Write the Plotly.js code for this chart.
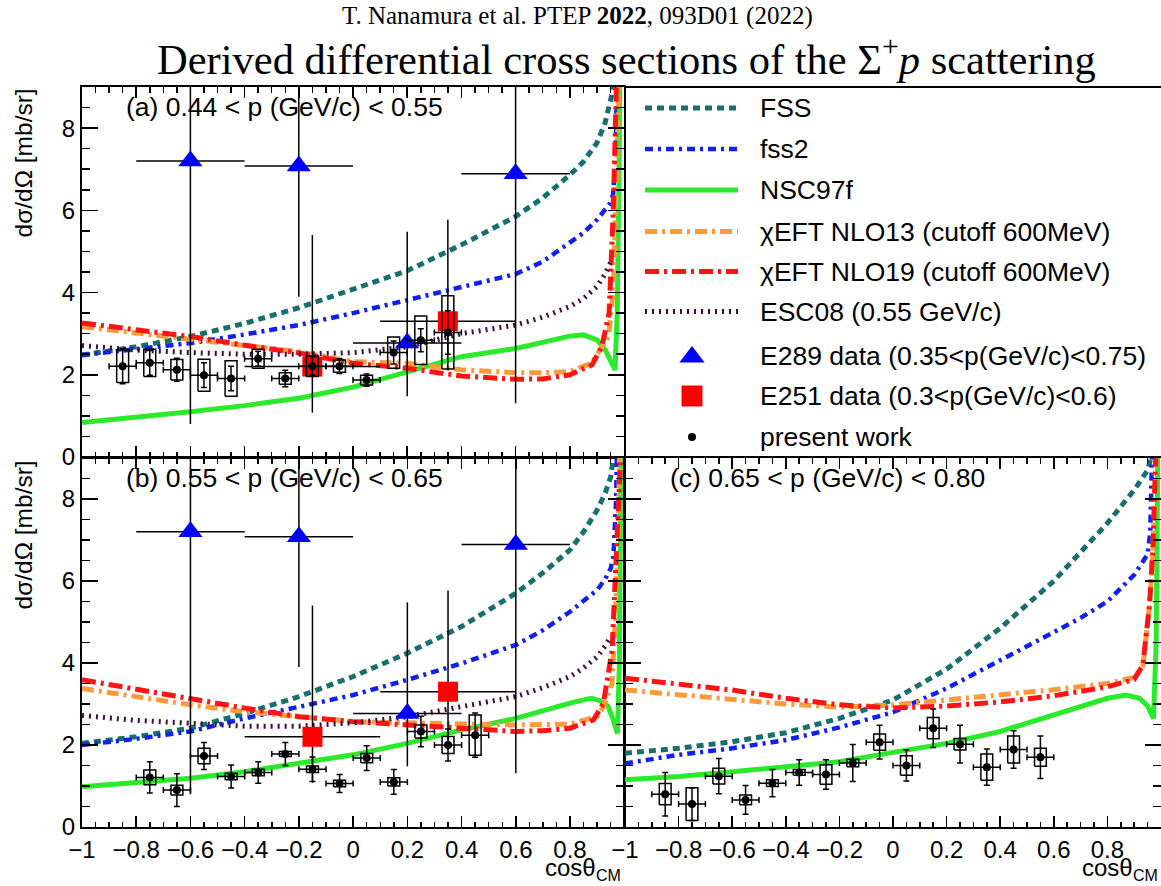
<!DOCTYPE html>
<html><head><meta charset="utf-8">
<script src="https://cdn.plot.ly/plotly-3.0.1.min.js"></script>
<style>html,body{margin:0;padding:0;overflow:hidden;background:#fff}</style>
</head><body><div id="chart" style="width:1161px;height:886px"></div>
<script>
// ---------------- DATA ----------------
// present work, panel (a) 0.44 < p < 0.55
const pwA_x = [-0.85,-0.75,-0.65,-0.55,-0.45,-0.35,-0.25,-0.15,-0.05,0.05,0.15,0.25,0.35];
const pwA_y = [2.21,2.29,2.12,1.99,1.91,2.39,1.91,2.21,2.21,1.87,2.54,2.84,3.03];
const pwA_stat = [0.43,0.30,0.28,0.30,0.30,0.18,0.20,0.22,0.18,0.15,0.28,0.28,0.53];
const pwA_sys = [0.40,0.33,0.25,0.39,0.43,0.23,0.14,0.25,0.15,0.12,0.38,0.59,0.89];
// panel (b) 0.55 < p < 0.65
const pwB_x = [-0.75,-0.65,-0.55,-0.45,-0.35,-0.25,-0.15,-0.05,0.05,0.15,0.25,0.35,0.45];
const pwB_y = [1.21,0.90,1.73,1.23,1.33,1.78,1.41,1.06,1.68,1.10,2.33,2.00,2.24];
const pwB_stat = [0.38,0.40,0.33,0.28,0.26,0.28,0.30,0.22,0.30,0.30,0.37,0.39,0.54];
const pwB_sys = [0.18,0.12,0.19,0.08,0.08,0.06,0.08,0.08,0.11,0.10,0.16,0.21,0.49];
// panel (c) 0.65 < p < 0.80
const pwC_x = [-0.85,-0.75,-0.65,-0.55,-0.45,-0.35,-0.25,-0.15,-0.05,0.05,0.15,0.25,0.35,0.45,0.55];
const pwC_y = [0.80,0.56,1.24,0.66,1.07,1.33,1.28,1.56,2.07,1.50,2.41,2.02,1.46,1.89,1.70];
const pwC_stat = [0.53,0.40,0.43,0.35,0.33,0.31,0.36,0.45,0.41,0.38,0.47,0.46,0.44,0.46,0.52];
const pwC_sys = [0.26,0.40,0.19,0.12,0.08,0.07,0.24,0.09,0.20,0.24,0.26,0.14,0.32,0.33,0.22];
const pwBinHalf = 0.05;

// E289 data (0.35<p<0.75)
const e289_x = [-0.6,-0.2,0.2,0.6];
const e289_y = [7.20,7.08,2.77,6.89];
const e289_errPlus = [6.40,3.18,2.71,5.58];
const e289_errMinus = [6.40,3.18,1.29,5.58];
const e289BinHalf = 0.2;
// E251 data (0.3<p<0.6)
const e251_x = [-0.15,0.35];
const e251_y = [2.20,3.30];
const e251_errPlus = [3.20,2.47];
const e251_errMinus = [1.12,1.18];
const e251BinHalf = 0.25;

// theory curves, panel (a)
const fssA_x  = [-1,-0.8,-0.6,-0.4,-0.2,0,0.2,0.4,0.6,0.7,0.8,0.85,0.9,0.93,0.95,0.96,0.97,0.98];
const fssA_y  = [2.48,2.68,2.93,3.25,3.63,4.09,4.53,5.16,5.85,6.3,6.86,7.18,7.64,8.12,8.6,8.95,9.5,12];
const fss2A_x = [-1,-0.8,-0.6,-0.4,-0.2,0,0.2,0.4,0.6,0.7,0.8,0.85,0.9,0.93,0.95,0.96,0.97,0.98];
const fss2A_y = [2.48,2.62,2.77,2.98,3.21,3.5,3.82,4.14,4.45,4.75,5.2,5.45,5.77,6.0,6.18,6.4,7.5,12];
const nscA_x  = [-1,-0.8,-0.6,-0.4,-0.2,0,0.2,0.4,0.6,0.7,0.8,0.85,0.9,0.93,0.95,0.967,0.975,0.982,0.988];
const nscA_y  = [0.84,0.96,1.10,1.25,1.43,1.70,2.08,2.44,2.64,2.8,2.94,2.97,2.85,2.62,2.36,2.12,3.5,7,13];
const nlo13A_x = [-1,-0.8,-0.6,-0.4,-0.2,0,0.2,0.4,0.6,0.7,0.8,0.88,0.906,0.943,0.961,0.967,0.973,0.979,0.985];
const nlo13A_y = [3.17,3.02,2.89,2.72,2.56,2.32,2.28,2.12,2.05,2.05,2.08,2.28,2.53,2.93,4.1,5.9,7.2,8.4,10];
const nlo19A_x = [-1,-0.8,-0.6,-0.4,-0.2,0,0.2,0.4,0.6,0.7,0.8,0.882,0.918,0.945,0.96,0.97,0.98];
const nlo19A_y = [3.26,3.1,2.93,2.72,2.53,2.28,2.16,1.97,1.89,1.9,2.0,2.24,2.68,3.5,5.9,8.5,11];
const escA_x  = [-1,-0.8,-0.6,-0.4,-0.2,0,0.2,0.4,0.6,0.7,0.8,0.85,0.9,0.93,0.95];
const escA_y  = [2.71,2.6,2.54,2.5,2.5,2.54,2.68,3.0,3.21,3.4,3.66,3.85,4.14,4.45,4.72];

// theory curves, panel (b)
const fssB_x  = [-1,-0.8,-0.6,-0.4,-0.2,0,0.2,0.4,0.6,0.7,0.8,0.85,0.9,0.93,0.95,0.96,0.97,0.98];
const fssB_y  = [2.04,2.2,2.41,2.77,3.18,3.67,4.24,4.89,5.7,6.2,6.76,7.2,7.73,8.15,8.54,8.9,9.5,12];
const fss2B_x = [-1,-0.8,-0.6,-0.4,-0.2,0,0.2,0.4,0.6,0.7,0.8,0.85,0.9,0.93,0.95,0.96,0.97,0.98];
const fss2B_y = [2.0,2.15,2.33,2.65,2.93,3.22,3.59,3.99,4.44,4.8,5.25,5.5,5.78,6.05,6.31,6.6,8,12];
const nscB_x  = [-1,-0.8,-0.6,-0.4,-0.2,0,0.2,0.4,0.6,0.7,0.8,0.85,0.88,0.91,0.94,0.96,0.975,0.982,0.987,0.992];
const nscB_y  = [0.98,1.08,1.19,1.35,1.55,1.76,2.04,2.37,2.65,2.85,3.02,3.1,3.14,3.08,2.95,2.6,2.28,4,8,13];
const nlo13B_x = [-1,-0.8,-0.6,-0.4,-0.2,0,0.2,0.4,0.6,0.7,0.8,0.9,0.923,0.955,0.967,0.979,0.985,0.99];
const nlo13B_y = [3.38,3.17,2.98,2.81,2.69,2.57,2.54,2.51,2.49,2.5,2.51,2.7,2.93,3.5,5.1,7.6,9.5,12];
const nlo19B_x = [-1,-0.8,-0.6,-0.4,-0.2,0,0.2,0.4,0.6,0.7,0.8,0.886,0.923,0.955,0.973,0.985,0.99];
const nlo19B_y = [3.59,3.35,3.14,2.9,2.69,2.57,2.49,2.41,2.33,2.35,2.41,2.61,3.02,4.3,6.8,8.8,11];
const escB_x  = [-1,-0.8,-0.6,-0.4,-0.2,0,0.2,0.4,0.6,0.7,0.8,0.85,0.9,0.93,0.95];
const escB_y  = [2.72,2.6,2.53,2.46,2.46,2.54,2.69,2.93,3.18,3.4,3.67,3.88,4.15,4.42,4.64];

// theory curves, panel (c)
const fssC_x  = [-1,-0.8,-0.6,-0.4,-0.2,0,0.2,0.4,0.6,0.7,0.8,0.9,0.95,0.97,0.98];
const fssC_y  = [1.80,1.92,2.08,2.3,2.65,3.1,3.85,4.85,6.0,6.7,7.41,8.22,8.7,9.2,12];
const fss2C_x = [-1,-0.8,-0.6,-0.4,-0.2,0,0.2,0.4,0.6,0.7,0.8,0.9,0.95,0.96,0.97,0.98];
const fss2C_y = [1.55,1.76,1.92,2.12,2.43,2.8,3.38,4.05,4.75,5.1,5.5,6.15,6.65,7.2,9,13];
const nscC_x  = [-1,-0.8,-0.6,-0.4,-0.2,0,0.2,0.4,0.6,0.7,0.8,0.87,0.92,0.95,0.972,0.982,0.988,0.993];
const nscC_y  = [1.15,1.23,1.35,1.47,1.59,1.82,2.04,2.33,2.73,2.95,3.14,3.22,3.14,2.95,2.65,4.5,9,13];
const nlo13C_x = [-1,-0.8,-0.6,-0.4,-0.2,0,0.2,0.4,0.6,0.8,0.9,0.932,0.957,0.97,0.98,0.985];
const nlo13C_y = [3.34,3.22,3.11,3.0,2.92,2.98,3.1,3.22,3.35,3.5,3.65,3.91,5.4,6.8,8.4,10];
const nlo19C_x = [-1,-0.8,-0.6,-0.4,-0.2,0,0.2,0.4,0.6,0.8,0.9,0.932,0.957,0.97,0.98,0.985];
const nlo19C_y = [3.63,3.5,3.34,3.14,2.98,2.9,2.95,3.05,3.2,3.42,3.6,3.95,5.4,6.8,8.5,10];

const legendLabels = ['FSS','fss2','NSC97f','χEFT NLO13 (cutoff 600MeV)','χEFT NLO19 (cutoff 600MeV)',
  'ESC08 (0.55 GeV/c)','E289 data (0.35&lt;p(GeV/c)&lt;0.75)','E251 data (0.3&lt;p(GeV/c)&lt;0.6)','present work'];
const panelLabels = ['(a) 0.44 &lt; p (GeV/c) &lt; 0.55','(b) 0.55 &lt; p (GeV/c) &lt; 0.65','(c) 0.65 &lt; p (GeV/c) &lt; 0.80'];

// ---------------- STYLE ----------------
const SANS = 'Liberation Sans, Arial, Helvetica, sans-serif';
const SERIF = 'Liberation Serif, Times New Roman, serif';
const W = 1161, H = 886;
const PX = v => v / W, PY = v => 1 - v / H;

const ST = {
  fss:   {color:'#17706e', dash:'7px,5px', width:5},
  fss2:  {color:'#1020f0', dash:'8px,5px,3px,5px', width:4.5},
  nsc:   {color:'#2bea2b', dash:'solid', width:5},
  nlo13: {color:'#ff9a3c', dash:'12px,5px,3px,5px', width:5},
  nlo19: {color:'#ff1414', dash:'14px,5px,3px,5px', width:5},
  esc:   {color:'#3c0f3c', dash:'2px,5px', width:5}
};

function curve(x, y, xa, ya, st) {
  return {type:'scatter', mode:'lines', x, y, xaxis:xa, yaxis:ya,
    line:{color:st.color, dash:st.dash, width:st.width}, hoverinfo:'skip', showlegend:false};
}
function boxes(xs, ys, ss, w, xa, ya) {
  const bx = [], by = [];
  xs.forEach((x, i) => {
    const lo = ys[i] - ss[i], hi = ys[i] + ss[i];
    bx.push(x - w, x + w, x + w, x - w, x - w, null);
    by.push(lo, lo, hi, hi, lo, null);
  });
  return {type:'scatter', mode:'lines', x:bx, y:by, xaxis:xa, yaxis:ya,
    line:{color:'black', width:1.5}, hoverinfo:'skip', showlegend:false};
}
function present(xs, ys, st, xa, ya) {
  return {type:'scatter', mode:'markers', x:xs, y:ys, xaxis:xa, yaxis:ya,
    marker:{symbol:'circle', size:8, color:'black'},
    error_y:{type:'data', array:st, visible:true, color:'black', thickness:1.5, width:3},
    error_x:{type:'constant', value:pwBinHalf, visible:true, color:'black', thickness:1.5, width:3},
    hoverinfo:'skip', showlegend:false};
}
function e289(xa, ya) {
  return {type:'scatter', mode:'markers', x:e289_x, y:e289_y, xaxis:xa, yaxis:ya,
    marker:{symbol:'triangle-up', size:21, color:'#0000ff'},
    error_y:{type:'data', symmetric:false, array:e289_errPlus, arrayminus:e289_errMinus, visible:true, color:'black', thickness:1.5, width:0},
    error_x:{type:'constant', value:e289BinHalf, visible:true, color:'black', thickness:1.5, width:0},
    hoverinfo:'skip', showlegend:false};
}
function e251(xa, ya) {
  return {type:'scatter', mode:'markers', x:e251_x, y:e251_y, xaxis:xa, yaxis:ya,
    marker:{symbol:'square', size:20, color:'#ff0000'},
    error_y:{type:'data', symmetric:false, array:e251_errPlus, arrayminus:e251_errMinus, visible:true, color:'black', thickness:1.5, width:0},
    error_x:{type:'constant', value:e251BinHalf, visible:true, color:'black', thickness:1.5, width:0},
    hoverinfo:'skip', showlegend:false};
}

const SW = 0.022;
const traces = [
  // panel a
  curve(fssA_x, fssA_y, 'x', 'y', ST.fss),
  curve(fss2A_x, fss2A_y, 'x', 'y', ST.fss2),
  curve(nscA_x, nscA_y, 'x', 'y', ST.nsc),
  curve(nlo13A_x, nlo13A_y, 'x', 'y', ST.nlo13),
  curve(nlo19A_x, nlo19A_y, 'x', 'y', ST.nlo19),
  curve(escA_x, escA_y, 'x', 'y', ST.esc),
  e289('x', 'y'), e251('x', 'y'),
  boxes(pwA_x, pwA_y, pwA_sys, SW, 'x', 'y'),
  present(pwA_x, pwA_y, pwA_stat, 'x', 'y'),
  // panel b
  curve(fssB_x, fssB_y, 'x2', 'y2', ST.fss),
  curve(fss2B_x, fss2B_y, 'x2', 'y2', ST.fss2),
  curve(nscB_x, nscB_y, 'x2', 'y2', ST.nsc),
  curve(nlo13B_x, nlo13B_y, 'x2', 'y2', ST.nlo13),
  curve(nlo19B_x, nlo19B_y, 'x2', 'y2', ST.nlo19),
  curve(escB_x, escB_y, 'x2', 'y2', ST.esc),
  e289('x2', 'y2'), e251('x2', 'y2'),
  boxes(pwB_x, pwB_y, pwB_sys, SW, 'x2', 'y2'),
  present(pwB_x, pwB_y, pwB_stat, 'x2', 'y2'),
  // panel c
  curve(fssC_x, fssC_y, 'x3', 'y3', ST.fss),
  curve(fss2C_x, fss2C_y, 'x3', 'y3', ST.fss2),
  curve(nscC_x, nscC_y, 'x3', 'y3', ST.nsc),
  curve(nlo13C_x, nlo13C_y, 'x3', 'y3', ST.nlo13),
  curve(nlo19C_x, nlo19C_y, 'x3', 'y3', ST.nlo19),
  boxes(pwC_x, pwC_y, pwC_sys, SW, 'x3', 'y3'),
  present(pwC_x, pwC_y, pwC_stat, 'x3', 'y3')
];

// legend samples (drawn in a hidden pixel-space axis)
const legRowY = [108,149,190,231.5,271.5,311.5,356,396,437];
const legLineX = [645, 738];
const legStyles = [ST.fss, ST.fss2, ST.nsc, ST.nlo13, ST.nlo19, ST.esc];
legStyles.forEach((st, i) => traces.push(curve(legLineX, [legRowY[i], legRowY[i]], 'x4', 'y4', st)));
traces.push({type:'scatter', mode:'markers', x:[692], y:[legRowY[6]+1], xaxis:'x4', yaxis:'y4',
  marker:{symbol:'triangle-up', size:22, color:'#0000ff'}, hoverinfo:'skip', showlegend:false});
traces.push({type:'scatter', mode:'markers', x:[692], y:[legRowY[7]], xaxis:'x4', yaxis:'y4',
  marker:{symbol:'square', size:21, color:'#ff0000'}, hoverinfo:'skip', showlegend:false});
traces.push({type:'scatter', mode:'markers', x:[692], y:[legRowY[8]], xaxis:'x4', yaxis:'y4',
  marker:{symbol:'circle', size:8, color:'black'}, hoverinfo:'skip', showlegend:false});

const TICKFONT = {family:SANS, size:24, color:'black'};
function xax(domain, labels, range, anchor) {
  return {domain, range, anchor, showline:true, linecolor:'black', linewidth:2, mirror:'allticks',
    ticks:'inside', ticklen:11, tickwidth:1.5, tickcolor:'black', tickmode:'linear', tick0:-1, dtick:0.2,
    showticklabels:labels, tickfont:TICKFONT, showgrid:false, zeroline:false, fixedrange:true,
    minor:{ticks:'inside', ticklen:5.5, tickwidth:1.5, tickcolor:'black', tickmode:'linear', tick0:-1, dtick:0.05, showgrid:false}};
}
function yax(domain, labels, anchor) {
  return {domain, range:[0,9], anchor, showline:true, linecolor:'black', linewidth:2, mirror:'allticks',
    ticks:'inside', ticklen:16, tickwidth:1.5, tickcolor:'black', tickmode:'linear', tick0:0, dtick:2,
    showticklabels:labels, tickfont:TICKFONT, showgrid:false, zeroline:false, fixedrange:true,
    minor:{ticks:'inside', ticklen:8, tickwidth:1.5, tickcolor:'black', tickmode:'linear', tick0:0, dtick:0.5, showgrid:false}};
}
const dxL = [PX(82), PX(624)], dxR = [PX(625), 1];
const dyT = [PY(457), PY(87)], dyB = [PY(827), PY(458)];

const annotations = [];
const LABEL_SIZE = 26.5;
function ann(text, x, y, opts) {
  annotations.push(Object.assign({text, x, y, xref:'paper', yref:'paper', showarrow:false,
    xanchor:'left', yanchor:'middle', font:{family:SANS, size:LABEL_SIZE, color:'black'}}, opts || {}));
}
ann('T. Nanamura et al. PTEP <b>2022</b>, 093D01 (2022)', PX(340), PY(16), {xanchor:'left', font:{family:SERIF, size:25, color:'black'}});
ann('Derived differential cross sections of the Σ<sup>+</sup><i>p</i> scattering', PX(626), PY(56), {xanchor:'center', font:{family:SERIF, size:42.5, color:'black'}});
ann(panelLabels[0], PX(124), PY(107));
ann(panelLabels[1], PX(124), PY(478));
ann(panelLabels[2], PX(668), PY(478));
ann('dσ/dΩ [mb/sr]', PX(23), PY(87), {xanchor:'center', yanchor:'top', textangle:-90, font:{family:SANS, size:24.5, color:'black'}});
ann('dσ/dΩ [mb/sr]', PX(23), PY(459), {xanchor:'center', yanchor:'top', textangle:-90, font:{family:SANS, size:24.5, color:'black'}});
// x-axis titles: cosθ with a lowered CM subscript
ann('cosθ', PX(598), PY(867), {xanchor:'right', font:{family:SANS, size:24, color:'black'}});
ann('CM', PX(594), PY(875), {xanchor:'left', font:{family:SANS, size:16, color:'black'}});
ann('cosθ', PX(1135), PY(867), {xanchor:'right', font:{family:SANS, size:24, color:'black'}});
ann('CM', PX(1131), PY(875), {xanchor:'left', font:{family:SANS, size:16, color:'black'}});
legendLabels.forEach((t, i) => ann(t, PX(758), PY(legRowY[i])));

const layout = {
  width:W, height:H, margin:{l:0, r:0, t:0, b:0}, paper_bgcolor:'white', plot_bgcolor:'white',
  showlegend:false,
  xaxis: xax(dxL, false, [-1, 1], 'y'),
  yaxis: yax(dyT, true, 'x'),
  xaxis2: xax(dxL, true, [-1, 0.999], 'y2'),
  yaxis2: yax(dyB, true, 'x2'),
  xaxis3: xax(dxR, true, [-1, 1], 'y3'),
  yaxis3: yax(dyB, false, 'x3'),
  xaxis4: {domain:[PX(624), 1], range:[624, 1161], anchor:'y4', visible:false, fixedrange:true},
  yaxis4: {domain:dyT, range:[457, 87], anchor:'x4', visible:false, fixedrange:true},
  shapes: [
    {type:'line', xref:'paper', yref:'paper', x0:PX(624), x1:1, y0:PY(87), y1:PY(87), line:{color:'black', width:2}}
  ],
  annotations
};

Plotly.newPlot('chart', traces, layout, {staticPlot:true, displayModeBar:false});
</script></body></html>
